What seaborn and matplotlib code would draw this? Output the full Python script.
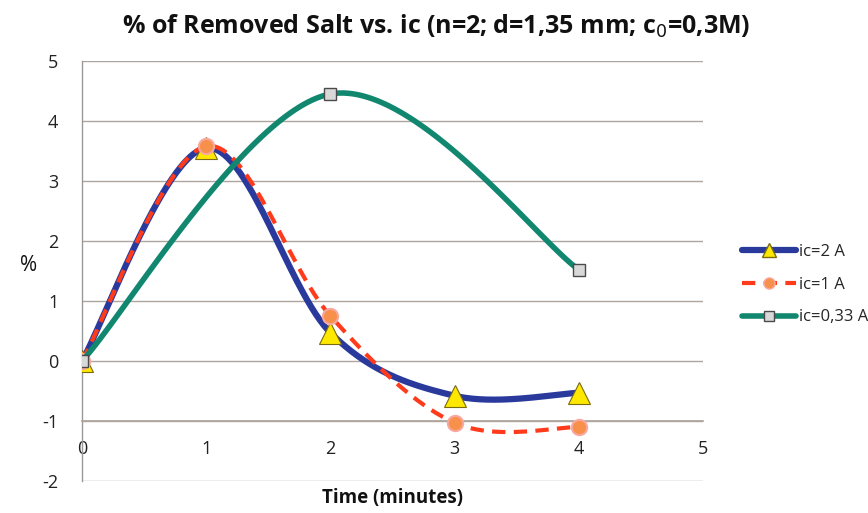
import numpy as np
import pandas as pd
import matplotlib
matplotlib.use("Agg")
import matplotlib.pyplot as plt
import seaborn as sns
from matplotlib.lines import Line2D

# ---- data ----
time_min = [0, 1, 2, 3, 4]
ic2_vals = [0.0, 3.55, 0.47, -0.58, -0.53]
ic1_vals = [0.0, 3.58, 0.75, -1.03, -1.10]
time_033 = [0, 2, 4]
ic033_vals = [0.0, 4.45, 1.52]
series_labels = ["ic=2 A", "ic=1 A", "ic=0,33 A"]
x_ticks = [0, 1, 2, 3, 4, 5]
y_ticks = [-2, -1, 0, 1, 2, 3, 4, 5]

sns.set_theme(style="white")
plt.rcParams['font.family'] = ['Open Sans', 'DejaVu Sans']


def smooth(xs, ys, n=60):
    """Excel-like smoothed line: cubic Bezier with Catmull-Rom control points."""
    P = np.column_stack([xs, ys]).astype(float)
    m = len(P)
    out = []
    for i in range(m - 1):
        p0 = P[max(i - 1, 0)]
        p1 = P[i]
        p2 = P[i + 1]
        p3 = P[min(i + 2, m - 1)]
        c1 = p1 + (p2 - p0) / 6.0
        c2 = p2 - (p3 - p1) / 6.0
        t = np.linspace(0, 1, n)[:, None]
        seg = ((1 - t) ** 3) * p1 + 3 * ((1 - t) ** 2) * t * c1 + 3 * (1 - t) * t ** 2 * c2 + t ** 3 * p2
        if i > 0:
            seg = seg[1:]
        out.append(seg)
    out = np.vstack(out)
    return pd.DataFrame({"x": out[:, 0], "y": out[:, 1]})


fig = plt.figure(figsize=(8.68, 5.13), dpi=100)
ax = fig.add_axes([0.0945, 0.0624, 0.8100 - 0.0945, 0.8187])

grid_c = "#ADA59E"
for yv in y_ticks:
    ax.axhline(yv, color=grid_c, lw=1.0, zorder=0)

blue = "#2A3A9C"
red = "#FF3B1C"
green = "#11876F"

# ic = 2 A
d = smooth(time_min, ic2_vals)
sns.lineplot(data=d, x="x", y="y", sort=False, ax=ax, color=blue, lw=4.5, zorder=3)
ax.plot(time_min, ic2_vals, ls="none", marker="^", ms=16, mfc="#FFE800", mec="#7A6A10", mew=0.8, zorder=4)

# ic = 1 A
d = smooth(time_min, ic1_vals)
sns.lineplot(data=d, x="x", y="y", sort=False, ax=ax, color=red, lw=3.0, zorder=5)
ax.lines[-1].set_dashes([3.2, 2.0])
ax.plot(time_min, ic1_vals, ls="none", marker="o", ms=11, mfc="#F7904A", mec="#F9A8A0", mew=1.5, zorder=6)

# ic = 0,33 A
d = smooth(time_033, ic033_vals)
sns.lineplot(data=d, x="x", y="y", sort=False, ax=ax, color=green, lw=4.0, zorder=7)
ax.plot(time_033, ic033_vals, ls="none", marker="s", ms=9, mfc="#D8D8D8", mec="#4A4A4A", mew=1.0, zorder=8)

ax.set_xlim(0, 5)
ax.set_ylim(-2, 5)
ax.set_xticks(x_ticks)
ax.set_yticks(y_ticks)
ax.set_xticklabels([str(v) for v in x_ticks])
ax.set_yticklabels([str(v) for v in y_ticks])

for s in ["top", "right"]:
    ax.spines[s].set_visible(False)
ax.spines["left"].set_color("#999999")
ax.spines["left"].set_linewidth(1.0)
ax.spines["bottom"].set_position(("data", -1))
ax.spines["bottom"].set_color(grid_c)
ax.tick_params(axis="x", direction="out", length=5, width=1, color="#999999", pad=9,
               labelsize=13, labelcolor="#222222")
ax.tick_params(axis="y", direction="out", length=5, width=1, color="#999999", pad=12,
               labelsize=13, labelcolor="#222222")

ax.set_xlabel("")
ax.set_ylabel("")
fig.text(0.452, 0.030, "Time (minutes)", ha="center", va="center", fontsize=13.5,
         fontweight="bold", color="#111111")
fig.text(0.033, 0.483, "%", ha="center", va="center", fontsize=15, color="#111111")

fig.suptitle("% of Removed Salt vs. ic (n=2; d=1,35 mm; c$_0$=0,3M)", x=0.502, y=0.975,
             fontsize=18, fontweight="bold", color="#111111")

handles = [
    Line2D([], [], color=blue, lw=4.5, marker="^", ms=10, mfc="#FFE800", mec="#7A6A10"),
    Line2D([], [], color=red, lw=3.0, ls=(0, (3.2, 2.0)), marker="o", ms=8, mfc="#F7904A", mec="#F9A8A0"),
    Line2D([], [], color=green, lw=4.0, marker="s", ms=7, mfc="#D8D8D8", mec="#4A4A4A"),
]
fig.legend(handles, series_labels, loc="center left", bbox_to_anchor=(0.838, 0.445),
           frameon=False, fontsize=12, handlelength=3.2, handletextpad=0.2, labelspacing=1.0)

fig.savefig("out.png", dpi=100)
